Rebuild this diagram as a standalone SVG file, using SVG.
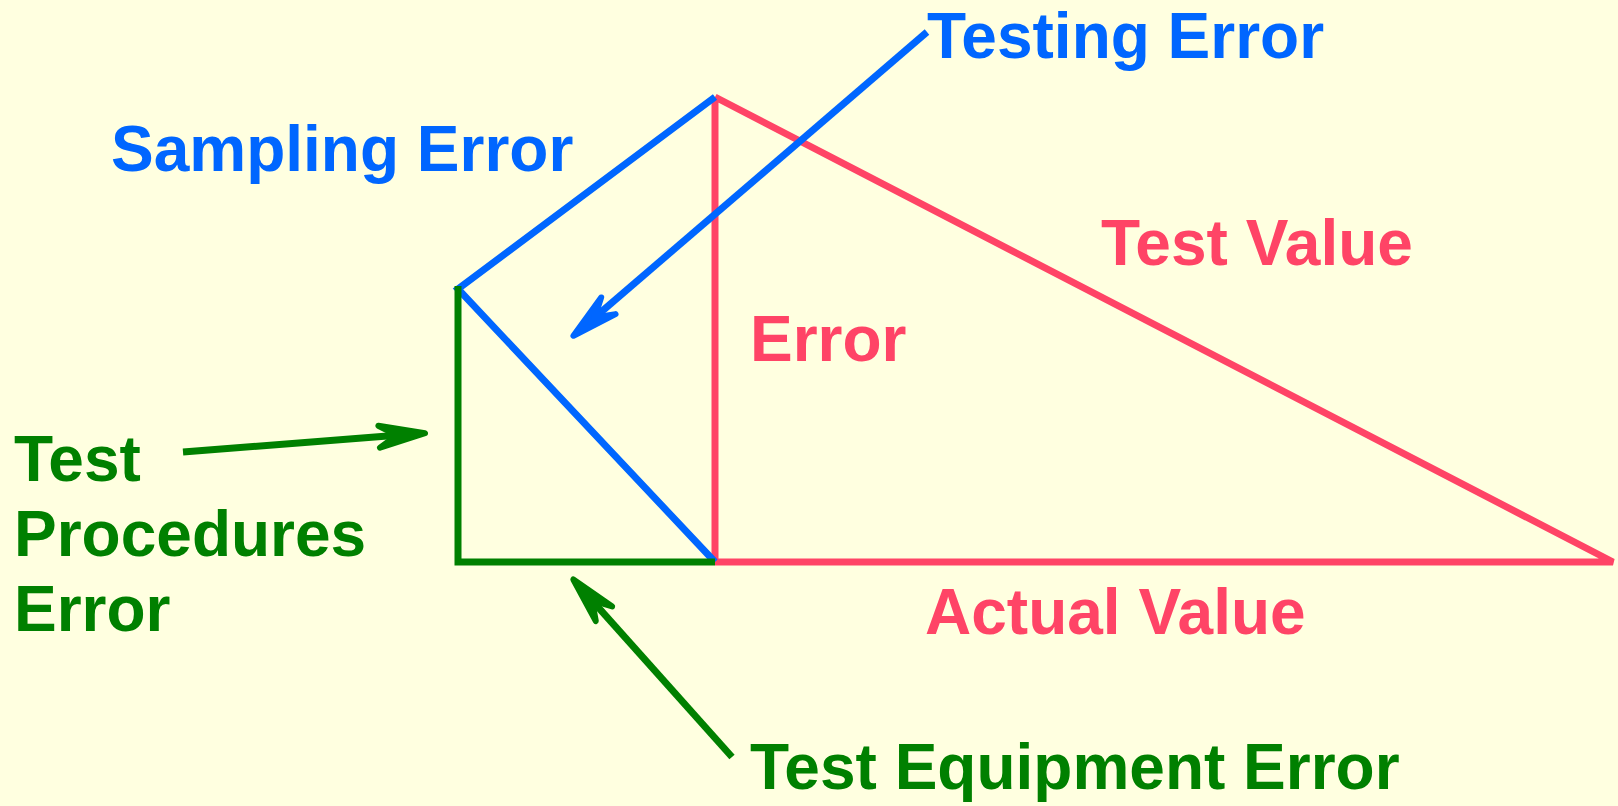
<svg xmlns="http://www.w3.org/2000/svg" width="1618" height="806" viewBox="0 0 1618 806">
  <style>
    text { font-family: "Liberation Sans", Arial, sans-serif; font-weight: bold; font-size: 64px; }
    .blue { fill: #0066FF; }
    .red { fill: #FF4466; }
    .green { fill: #008000; }
    .ln { fill: none; stroke-width: 7; stroke-linejoin: miter; }
    .sb { stroke: #0066FF; }
    .sr { stroke: #FF4466; }
    .sg { stroke: #008000; }
  </style>
  <defs>
    <marker id="ahBlue" markerUnits="userSpaceOnUse" orient="auto" refX="0" refY="0" markerWidth="80" markerHeight="40" viewBox="-30 -20 80 40" overflow="visible">
      <path d="M 28,0 L -18,-11 L 0,0 L -18,11 Z" fill="#0066FF" stroke="#0066FF" stroke-width="6" stroke-linejoin="round"/>
    </marker>
    <marker id="ahGreen" markerUnits="userSpaceOnUse" orient="auto" refX="0" refY="0" markerWidth="80" markerHeight="40" viewBox="-30 -20 80 40" overflow="visible">
      <path d="M 28,0 L -18,-11 L 0,0 L -18,11 Z" fill="#008000" stroke="#008000" stroke-width="6" stroke-linejoin="round"/>
    </marker>
  </defs>
  <rect x="0" y="0" width="1618" height="806" fill="#FFFFE0"/>

  <g id="triangle-red">
    <path class="ln sr" d="M 715,97 L 715,562 M 715,97 L 1613,562 L 715,562"/>
  </g>
  <g id="triangle-blue">
    <path class="ln sb" d="M 715,97 L 458,289 L 715,562"/>
  </g>
  <g id="triangle-green">
    <path class="ln sg" d="M 458,286 L 458,562 L 715,562"/>
  </g>

  <g id="connectors">
    <path class="ln sb" d="M 927,32 L 594.7,317.5" marker-end="url(#ahBlue)"/>
    <path class="ln sg" d="M 183,452 L 397.1,435.3" marker-end="url(#ahGreen)"/>
    <path class="ln sg" d="M 732,757 L 592,600.4" marker-end="url(#ahGreen)"/>
  </g>

  <g id="testing-error"><text class="blue" x="927" y="58">Testing Error</text></g>
  <g id="sampling-error"><text class="blue" x="111" y="171">Sampling Error</text></g>
  <g id="test-value"><text class="red" x="1101" y="265">Test Value</text></g>
  <g id="error"><text class="red" x="750" y="361">Error</text></g>
  <g id="actual-value"><text class="red" x="925" y="634">Actual Value</text></g>
  <g id="test-procedures-error">
    <text class="green" x="14" y="481">Test</text>
    <text class="green" x="14" y="556">Procedures</text>
    <text class="green" x="14" y="631">Error</text>
  </g>
  <g id="test-equipment-error"><text class="green" x="750" y="789">Test Equipment Error</text></g>
</svg>
